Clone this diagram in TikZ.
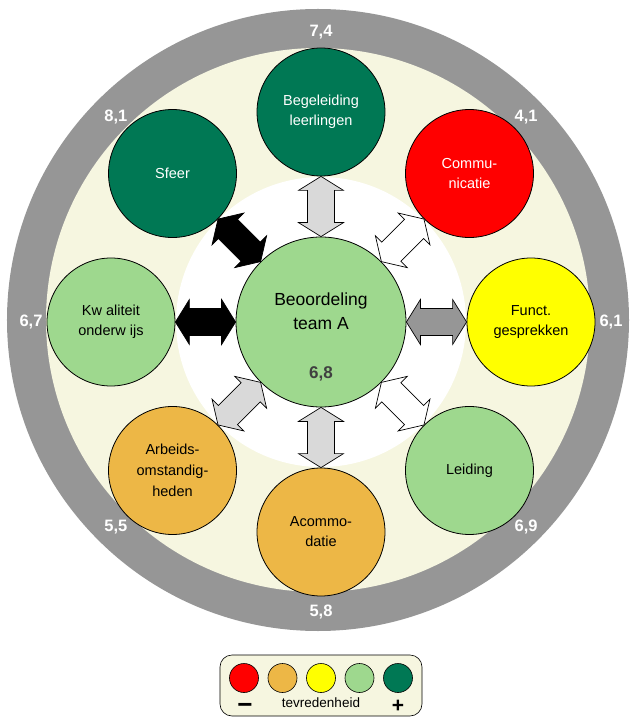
\documentclass[tikz,border=0pt]{standalone}
\usepackage{fontspec}
\setmainfont{Liberation Sans}
\usetikzlibrary{calc}
\definecolor{ringgrey}{RGB}{150,150,150}
\definecolor{cream}{RGB}{246,246,224}
\definecolor{tvred}{RGB}{255,0,0}
\definecolor{tvorange}{RGB}{237,183,70}
\definecolor{tvyellow}{RGB}{255,255,0}
\definecolor{tvlight}{RGB}{158,216,142}
\definecolor{tvdark}{RGB}{0,120,84}
\definecolor{arrlight}{RGB}{217,217,217}
\definecolor{arrgrey}{RGB}{150,150,150}
\definecolor{markgrey}{RGB}{64,64,64}
% block double arrow from #2 to #3, filled with #1
\newcommand{\blockarrow}[3]{%
  \draw[blockarr, fill=#1] (#2)
    -- ($($(#2)!14pt!(#3)$)!22.5pt!90:(#3)$)
    -- ($($(#2)!14pt!(#3)$)!13.5pt!90:(#3)$)
    -- ($($(#3)!14pt!(#2)$)!13.5pt!-90:(#2)$)
    -- ($($(#3)!14pt!(#2)$)!22.5pt!-90:(#2)$)
    -- (#3)
    -- ($($(#3)!14pt!(#2)$)!22.5pt!90:(#2)$)
    -- ($($(#3)!14pt!(#2)$)!13.5pt!90:(#2)$)
    -- ($($(#2)!14pt!(#3)$)!13.5pt!-90:(#3)$)
    -- ($($(#2)!14pt!(#3)$)!22.5pt!-90:(#3)$)
    -- cycle;}
\begin{document}
\begin{tikzpicture}[x=1pt,y=1pt,
  topic/.style={circle, draw=black, line width=0.8pt, minimum size=128pt, inner sep=0pt, align=center, font=\fontsize{14.5}{20}\selectfont},
  score/.style={text=white, font=\bfseries\fontsize{16.5}{16}\selectfont},
  blockarr/.style={draw=black, line width=0.7pt, line join=miter},
  legenddot/.style={circle, draw=black, line width=0.6pt, minimum size=29pt, inner sep=0pt}]
\useasboundingbox (-321,-395) rectangle (309,322);
% rings
\fill[ringgrey] (-3,2) circle (311);
\fill[cream] (-3,2) circle (272);
\fill[white] (0,0) circle (145);
% centre
\node[topic, fill=tvlight, minimum size=170pt] (ctr) at (0,0) {};
\node[font=\fontsize{17.5}{24}\selectfont, align=center] (title) at (0,11) {Beoordeling\\team A};
\node[font=\bfseries\fontsize{17}{17}\selectfont, text=markgrey] (mark) at (0,-52) {6,8};
% topics
\node[topic, fill=tvdark, text=white] (beg) at (90:210) {Begeleiding\\leerlingen};
\node[topic, fill=tvred, text=white] (com) at (45:210) {Commu-\\nicatie};
\node[topic, fill=tvyellow] (fun) at (0:210) {Funct.\\gesprekken};
\node[topic, fill=tvlight] (lei) at (-45:210) {Leiding};
\node[topic, fill=tvorange] (aco) at (-90:210) {Acommo-\\datie};
\node[topic, fill=tvorange, font=\fontsize{14.5}{21}\selectfont] (arb) at (-135:210) {Arbeids-\\omstandig-\\heden};
\node[topic, fill=tvlight] (kwa) at (180:210) {Kw aliteit\\onderw ijs};
\node[topic, fill=tvdark, text=white] (sfe) at (135:210) {Sfeer};
% arrows
\foreach \a/\b/\nm/\fc in {90/270/beg/arrlight, 45/225/com/white, 0/180/fun/arrgrey,
  315/135/lei/white, 270/90/aco/arrlight, 225/45/arb/arrlight, 180/0/kwa/black, 135/315/sfe/black}
  \blockarrow{\fc}{ctr.\a}{\nm.\b};
% scores
\foreach \a/\s in {90/{7,4}, 45/{4,1}, 0/{6,1}, -45/{6,9}, -90/{5,8}, -135/{5,5}, 180/{6,7}, 135/{8,1}}
  \node[score] (s\a) at (\a:290) {\s};
% legend
\draw[fill=cream, line width=0.6pt, rounded corners=12pt] (-101,-394) rectangle (101,-333);
\foreach \c [count=\i] in {tvred,tvorange,tvyellow,tvlight,tvdark}
  \node[legenddot, fill=\c] (dot\i) at ({-77+38.5*(\i-1)},-356) {};
\node[font=\fontsize{13.5}{14}\selectfont] (tev) at (0,-381) {tevredenheid};
\node[font=\bfseries\fontsize{26}{26}\selectfont] (minus) at (-76,-386) {−};
\node[font=\bfseries\fontsize{21}{21}\selectfont] (plus) at (77,-384) {+};
\end{tikzpicture}
\end{document}
